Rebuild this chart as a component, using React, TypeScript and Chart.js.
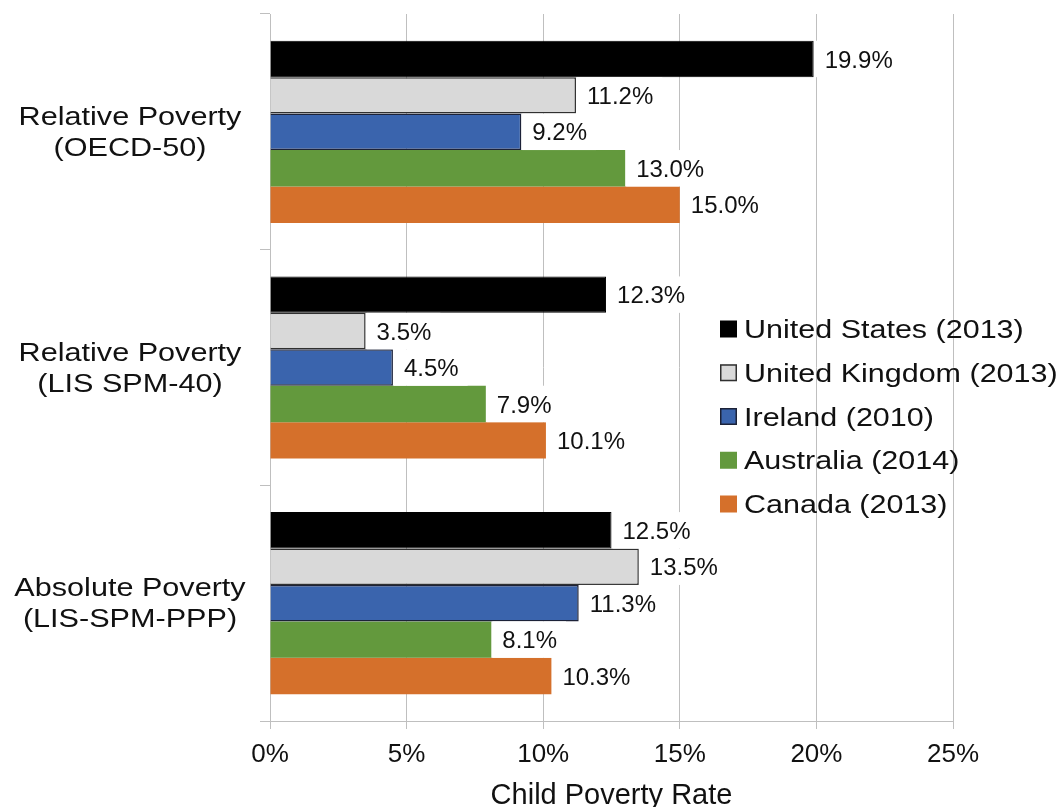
import React, { useEffect, useRef } from "react";
import { Chart, registerables } from "chart.js";

Chart.register(...registerables);

// ---- data ----
const categories: string[][] = [
  ["Relative Poverty", "(OECD-50)"],
  ["Relative Poverty", "(LIS SPM-40)"],
  ["Absolute Poverty", "(LIS-SPM-PPP)"],
];
const seriesNames = [
  "United States (2013)",
  "United Kingdom (2013)",
  "Ireland (2010)",
  "Australia (2014)",
  "Canada (2013)",
];
const unitedStates = [19.9, 12.3, 12.5];
const unitedKingdom = [11.2, 3.5, 13.5];
const ireland = [9.2, 4.5, 11.3];
const australia = [13.0, 7.9, 8.1];
const canada = [15.0, 10.1, 10.3];
const xTickValues = [0, 5, 10, 15, 20, 25];
const xAxisTitle = "Child Poverty Rate";

// ---- styles ----
const FONT = '"Liberation Sans", Arial, Helvetica, sans-serif';
const fills = ["#000000", "#d9d9d9", "#3a64ad", "#63993d", "#d5702b"];
const borders = ["#000000", "#303030", "#1c2238", "#63993d", "#d5702b"];
const borderWidths = [1, 1.5, 1.5, 0, 0];
const GRID = "#bfbfbf";

const overlayPlugin = {
  id: "overlay",
  afterDatasetsDraw(chart: any) {
    const ctx = chart.ctx as CanvasRenderingContext2D;
    ctx.save();
    ctx.font = `24px ${FONT}`;
    chart.data.datasets.forEach((ds: any, di: number) => {
      const meta = chart.getDatasetMeta(di);
      meta.data.forEach((bar: any, i: number) => {
        const v = ds.data[i] as number;
        const text = v.toFixed(1) + "%";
        const { x, y, height } = bar.getProps(["x", "y", "height"], true);
        const w = ctx.measureText(text).width;
        ctx.fillStyle = "#ffffff";
        ctx.fillRect(x + 1, y - height / 2, w + 19, height);
        ctx.fillStyle = "#111111";
        ctx.textAlign = "left";
        ctx.textBaseline = "alphabetic";
        ctx.fillText(text, x + 11, y + 8.6);
      });
    });
    ctx.restore();
  },
  afterDraw(chart: any) {
    const ctx = chart.ctx as CanvasRenderingContext2D;
    const ys = chart.scales.y;
    ctx.save();
    // category labels
    ctx.font = `25.5px ${FONT}`;
    ctx.fillStyle = "#111111";
    ctx.textAlign = "center";
    ctx.textBaseline = "alphabetic";
    categories.forEach((lines, i) => {
      const cy = ys.getPixelForValue(i);
      lines.forEach((ln, j) => {
        ctx.save();
        ctx.translate(130, cy - 7 + j * 31);
        ctx.scale(1.2, 1);
        ctx.fillText(ln, 0, 0);
        ctx.restore();
      });
    });
    // legend
    ctx.font = `25px ${FONT}`;
    ctx.textAlign = "left";
    seriesNames.forEach((name, i) => {
      const cy = 329 + i * 43.75;
      ctx.fillStyle = fills[i];
      ctx.fillRect(720, cy - 8.5, 17, 17);
      if (borderWidths[i] > 0 && i > 0) {
        ctx.strokeStyle = borders[i];
        ctx.lineWidth = 1.5;
        ctx.strokeRect(720.75, cy - 7.75, 15.5, 15.5);
      }
      ctx.fillStyle = "#111111";
      ctx.save();
      ctx.translate(744, cy + 9);
      ctx.scale(1.22, 1);
      ctx.fillText(name, 0, 0);
      ctx.restore();
    });
    ctx.restore();
  },
};

export default function App() {
  const ref = useRef<HTMLCanvasElement | null>(null);

  useEffect(() => {
    const canvas = ref.current;
    if (!canvas) return;
    const seriesData = [unitedStates, unitedKingdom, ireland, australia, canada];
    const chart = new Chart(canvas, {
      type: "bar",
      data: {
        labels: categories,
        datasets: seriesNames.map((name, i) => ({
          label: name,
          data: seriesData[i],
          backgroundColor: fills[i],
          borderColor: borders[i],
          borderWidth: borderWidths[i],
          categoryPercentage: 0.773,
          barPercentage: 1,
        })),
      },
      options: {
        indexAxis: "y",
        animation: false,
        responsive: false,
        devicePixelRatio: 1,
        layout: { padding: { top: 14, right: 111, left: 0, bottom: 0 } },
        plugins: {
          legend: { display: false },
          tooltip: { enabled: false },
        },
        scales: {
          x: {
            type: "linear",
            min: xTickValues[0],
            max: xTickValues[xTickValues.length - 1],
            afterBuildTicks(scale: any) {
              scale.ticks = xTickValues.map((v) => ({ value: v }));
            },
            afterFit(scale: any) {
              scale.height = 830 - 721;
            },
            ticks: {
              callback: (v: any) => `${v}%`,
              font: { family: FONT, size: 26 },
              color: "#111111",
              padding: 10,
              maxRotation: 0,
            },
            grid: {
              color: GRID,
              lineWidth: 1,
              tickLength: 8,
            },
            border: { color: GRID, width: 1 },
            title: {
              display: true,
              text: xAxisTitle,
              font: { family: FONT, size: 29 },
              color: "#111111",
              padding: { top: 0, bottom: 17 },
            },
          },
          y: {
            type: "category",
            offset: true,
            afterFit(scale: any) {
              scale.width = 270;
            },
            ticks: { display: false },
            grid: {
              offset: true,
              drawOnChartArea: false,
              color: GRID,
              lineWidth: 1,
              tickLength: 10,
            },
            border: { color: GRID, width: 1 },
          },
        },
      },
      plugins: [overlayPlugin],
    } as any);
    return () => chart.destroy();
  }, []);

  return (
    <div
      style={{
        position: "fixed",
        left: 0,
        top: 0,
        width: 1064,
        height: 807,
        overflow: "hidden",
        background: "#ffffff",
      }}
    >
      <canvas
        ref={ref}
        width={1064}
        height={830}
        style={{ width: "1064px", height: "830px", display: "block" }}
      />
    </div>
  );
}
